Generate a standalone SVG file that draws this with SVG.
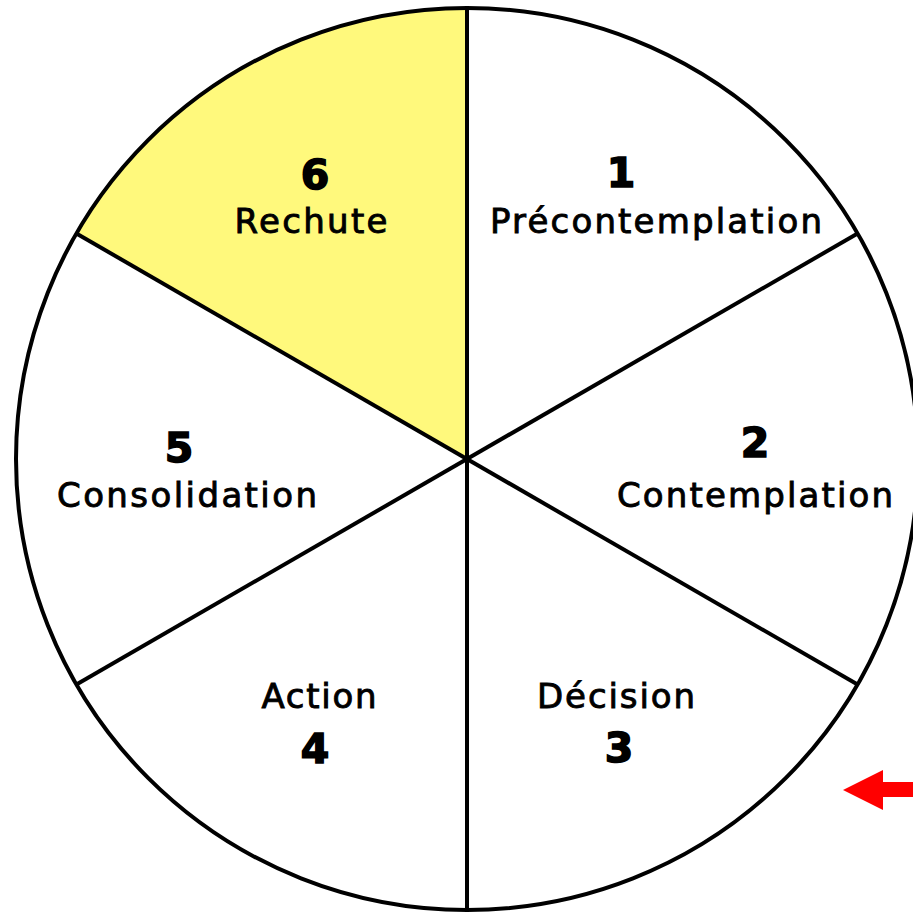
<svg xmlns="http://www.w3.org/2000/svg" width="913" height="915" viewBox="0 0 913 915">
  <style>
    .lbl { font-family: "DejaVu Sans", "Liberation Sans", sans-serif; font-size: 34px; fill: #000; stroke: #000; stroke-width: 0.9; text-anchor: middle; }
    .num { font-family: "DejaVu Sans", "Liberation Sans", sans-serif; font-size: 41px; font-weight: bold; fill: #000; stroke: #000; stroke-width: 1.6; text-anchor: middle; }
    .edge { stroke: #000; stroke-width: 4; fill: none; }
  </style>
  <rect width="913" height="915" fill="#ffffff"/>
  <path id="sector6" d="M467,459 L467,8 A451,451 0 0 0 76.4,233.5 Z" fill="#FFF97C"/>
  <g id="connectors">
    <circle class="edge" cx="467" cy="459" r="451"/>
    <line class="edge" x1="467" y1="8" x2="467" y2="910"/>
    <line class="edge" x1="76.4" y1="233.5" x2="857.6" y2="684.5"/>
    <line class="edge" x1="76.4" y1="684.5" x2="857.6" y2="233.5"/>
  </g>
  <g id="n1">
    <text class="num" x="621" y="187">1</text>
    <text class="lbl" x="656" y="233" textLength="332" lengthAdjust="spacing">Précontemplation</text>
  </g>
  <g id="n2">
    <text class="num" x="755" y="457">2</text>
    <text class="lbl" x="755" y="507" textLength="276" lengthAdjust="spacing">Contemplation</text>
  </g>
  <g id="n3">
    <text class="lbl" x="616" y="708" textLength="158" lengthAdjust="spacing">Décision</text>
    <text class="num" x="619" y="762">3</text>
  </g>
  <g id="n4">
    <text class="lbl" x="319" y="708" textLength="115" lengthAdjust="spacing">Action</text>
    <text class="num" x="315" y="763">4</text>
  </g>
  <g id="n5">
    <text class="num" x="179" y="462">5</text>
    <text class="lbl" x="187" y="507" textLength="260" lengthAdjust="spacing">Consolidation</text>
  </g>
  <g id="n6">
    <text class="num" x="315" y="189">6</text>
    <text class="lbl" x="311" y="233" textLength="153" lengthAdjust="spacing">Rechute</text>
  </g>
  <polygon id="arrow" points="843,790 883,770 883,782 913,782 913,797 883,797 883,810" fill="#FF0000"/>
</svg>
